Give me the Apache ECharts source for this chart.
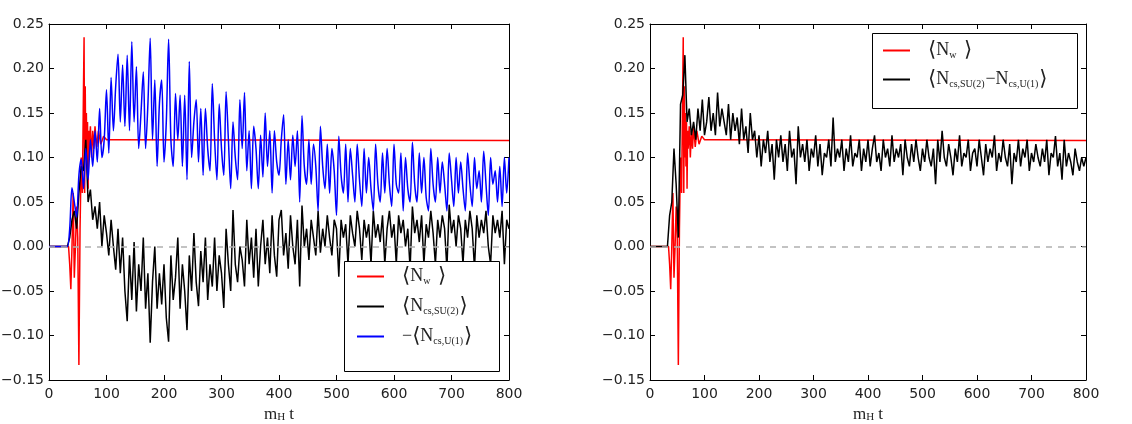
<!DOCTYPE html>
<html lang="en">
<head>
  <meta charset="UTF-8">
  <title>Chern-Simons number vs winding number</title>
  <script src="https://cdn.jsdelivr.net/npm/echarts@6/dist/echarts.min.js"></script>
  <style>
    html, body { margin: 0; padding: 0; background: #fff; }
  </style>
</head>
<body>

<div id="chart" style="width: 1132px; height: 424px;"></div>

<script>
  // sampling step (m_H t) of the gridded series
  var dt = 4;

  // winding number <N_w>, same in both panels (irregular times)
  var nwT = [0, 34, 36, 38, 40, 42, 44, 46, 48, 50, 52, 54, 56, 58, 60, 61, 62, 63, 64, 65,
             66, 67, 68, 69, 70, 72, 74, 76, 78, 80, 83, 86, 90, 95, 100, 110, 800];
  var nwV = [0, 0, -0.02, -0.048, 0.0, 0.06, -0.035, 0.0, 0.045, 0.01, -0.133, 0.02, 0.1, 0.06, 0.18, 0.235, 0.06, 0.18, 0.1, 0.15,
             0.09, 0.14, 0.065, 0.13, 0.11, 0.135, 0.1, 0.13, 0.11, 0.135, 0.112, 0.13, 0.115, 0.124, 0.12, 0.12, 0.119];

  // <N_cs,SU(2)>, left panel, every dt
  var ncsSU2 = [
    0, 0, 0, 0, 0, 0, 0, 0, 0, 0.01,
    0.03, 0.04, 0.02, 0.06, 0.09, 0.085, 0.12, 0.05, 0.064, 0.03,
    0.045, 0.02, 0.05, 0.0, 0.035, 0.015, -0.01, 0.03, 0.0, -0.026,
    0.02, -0.03, 0.01, -0.05, -0.084, -0.01, -0.06, 0.005, -0.073, -0.02,
    -0.05, 0.01, -0.07, -0.03, -0.108, -0.04, 0.0, -0.07, -0.03, -0.065,
    -0.02, -0.08, -0.107, -0.01, -0.06, -0.035, 0.01, -0.07, -0.02, -0.05,
    -0.094, -0.01, -0.05, 0.015, -0.04, -0.067, -0.005, -0.04, 0.01, -0.06,
    -0.02, -0.045, 0.01, -0.05, -0.01, -0.03, -0.069, 0.02, -0.02, -0.05,
    0.041, -0.02, -0.04, 0.0, -0.015, -0.045, 0.03, -0.02, 0.01, -0.035,
    0.02, -0.045, 0.0, 0.03, -0.02, 0.01, -0.03, 0.035, -0.01, -0.034,
    0.03, 0.041, -0.01, 0.015, -0.025, 0.035, 0.0, -0.02, 0.03, -0.045,
    0.046, 0.0, 0.02, -0.015, 0.03, 0.01, -0.01, 0.04, -0.007, 0.02,
    0.0, 0.035, 0.01, -0.01, 0.03, 0.02, -0.034, 0.03, 0.01, 0.025,
    -0.02, 0.035, 0.015, 0.0, 0.04, 0.02, -0.015, 0.03, 0.01, 0.025,
    -0.02, 0.04, 0.01, 0.025, 0.005, 0.035, -0.02, 0.02, 0.04, 0.01,
    0.025, -0.02, 0.035, 0.015, 0.03, 0.0, 0.02, -0.025, 0.045, 0.015,
    0.03, 0.005, 0.035, -0.02, 0.025, 0.01, 0.04, 0.015, -0.02, 0.03,
    0.01, 0.035, 0.02, -0.025, 0.047, 0.015, 0.03, 0.0, 0.035, 0.02,
    -0.02, 0.03, 0.01, 0.04, 0.02, -0.025, 0.035, 0.01, 0.03, 0.015,
    0.04, 0.0, -0.02, 0.035, 0.015, 0.03, 0.01, 0.04, -0.02, 0.03,
    0.02
  ];

  // -<N_cs,U(1)>, left panel, every dt
  var ncsU1neg = [
    0, 0, 0, 0, 0, 0, 0, 0, 0, 0.02,
    0.066, 0.05, 0.033, 0.08, 0.098, 0.065, 0.11, 0.075, 0.12, 0.09,
    0.13, 0.095, 0.155, 0.10, 0.12, 0.176, 0.105, 0.19, 0.13, 0.18,
    0.216, 0.14, 0.204, 0.135, 0.215, 0.13, 0.23, 0.14, 0.202, 0.11,
    0.15, 0.196, 0.11, 0.16, 0.234, 0.12, 0.187, 0.09, 0.16, 0.187,
    0.095, 0.14, 0.233, 0.12, 0.09, 0.172, 0.12, 0.17, 0.09, 0.17,
    0.075, 0.208, 0.1, 0.14, 0.165, 0.095, 0.155, 0.08, 0.155, 0.11,
    0.085, 0.183, 0.12, 0.075, 0.16, 0.11, 0.08, 0.174, 0.12, 0.065,
    0.14, 0.10, 0.075, 0.165, 0.11, 0.173, 0.085, 0.13, 0.065, 0.135,
    0.11, 0.065, 0.125, 0.078, 0.15, 0.09, 0.13, 0.06, 0.13, 0.095,
    0.08, 0.12, 0.148, 0.07, 0.12, 0.075, 0.125, 0.09, 0.13, 0.05,
    0.147, 0.09, 0.07, 0.12, 0.07, 0.115, 0.09, 0.04, 0.135, 0.09,
    0.065, 0.115, 0.06, 0.11, 0.085, 0.035, 0.124, 0.08, 0.06, 0.115,
    0.05, 0.11, 0.08, 0.05, 0.115, 0.075, 0.045, 0.11, 0.06, 0.1,
    0.065, 0.04, 0.115, 0.07, 0.05, 0.105, 0.06, 0.11, 0.07, 0.045,
    0.115, 0.07, 0.06, 0.105, 0.04, 0.1, 0.065, 0.05, 0.117, 0.07,
    0.05, 0.105, 0.06, 0.1, 0.055, 0.04, 0.11, 0.07, 0.05, 0.1,
    0.06, 0.095, 0.07, 0.04, 0.105, 0.075, 0.045, 0.1, 0.06, 0.095,
    0.065, 0.04, 0.105, 0.07, 0.045, 0.1, 0.065, 0.085, 0.05, 0.107,
    0.07, 0.035, 0.1, 0.07, 0.085, 0.05, 0.09, 0.045, 0.1, 0.06,
    0.1
  ];

  // <N_cs,SU(2) - N_cs,U(1)>, right panel, every dt
  var ncsDiff = [
    0, 0, 0, 0, 0, 0, 0, 0, 0.0, 0.035,
    0.05, 0.11, 0.07, 0.01, 0.16, 0.17, 0.215, 0.14, 0.155, 0.125,
    0.14, 0.12, 0.155, 0.13, 0.165, 0.125, 0.14, 0.168, 0.13, 0.15,
    0.125, 0.173, 0.135, 0.155, 0.14, 0.125, 0.16, 0.12, 0.15, 0.13,
    0.145, 0.115, 0.155, 0.12, 0.135, 0.105, 0.15, 0.12, 0.13, 0.1,
    0.125, 0.09, 0.12, 0.105, 0.13, 0.095, 0.115, 0.075, 0.12, 0.1,
    0.125, 0.095, 0.115, 0.085, 0.13, 0.1, 0.11, 0.07, 0.135, 0.1,
    0.115, 0.095, 0.12, 0.085, 0.11, 0.1, 0.125, 0.09, 0.115, 0.08,
    0.105, 0.1, 0.12, 0.09, 0.145, 0.095, 0.11, 0.1, 0.12, 0.085,
    0.11, 0.095, 0.125, 0.09, 0.105, 0.1, 0.12, 0.085, 0.11, 0.095,
    0.12, 0.09, 0.11, 0.125, 0.095, 0.105, 0.085, 0.12, 0.1, 0.11,
    0.09, 0.125, 0.095, 0.11, 0.1, 0.115, 0.08, 0.12, 0.1, 0.09,
    0.115, 0.095, 0.12, 0.1, 0.085, 0.11, 0.095, 0.12, 0.1, 0.09,
    0.11, 0.07, 0.12, 0.095, 0.13, 0.1, 0.09, 0.115, 0.1, 0.08,
    0.11, 0.095, 0.125, 0.09, 0.105, 0.1, 0.12, 0.085, 0.105, 0.11,
    0.09, 0.12, 0.1, 0.08, 0.115, 0.095, 0.11, 0.1, 0.125, 0.085,
    0.105, 0.095, 0.12, 0.1, 0.09, 0.115, 0.07, 0.105, 0.095, 0.12,
    0.09, 0.11, 0.1, 0.12, 0.085, 0.105, 0.095, 0.115, 0.1, 0.09,
    0.11, 0.095, 0.12, 0.08, 0.105, 0.1, 0.124, 0.09, 0.105, 0.075,
    0.12, 0.09, 0.105, 0.095, 0.08, 0.11, 0.095, 0.085, 0.1, 0.09,
    0.1
  ];

  var xTicks = { min: 0, max: 800, interval: 100 };
  var yTicks = { min: -0.15, max: 0.25, interval: 0.05 };

  function gridded(vals) {
    return vals.map(function (v, i) { return [i * dt, v]; });
  }
  function paired(ts, vs) {
    return ts.map(function (t, i) { return [t, vs[i]]; });
  }

  var legendLabels = {
    nw: '{sp|}{br|⟨}{n|N}{s|w}{br| ⟩}',
    su2: '{sp|}{br|⟨}{n|N}{s|cs,SU(2)}{br|⟩}',
    u1: '{sp|}{n|−}{br|⟨}{n|N}{s|cs,U(1)}{br|⟩}',
    diff: '{sp|}{br|⟨}{n|N}{s|cs,SU(2)}{n|−N}{s|cs,U(1)}{br|⟩}'
  };

  var legendRich = {
    sp: { width: 13 },
    br: { fontFamily: 'DejaVu Sans', fontSize: 21, color: '#222', lineHeight: 26 },
    n: { fontFamily: 'Liberation Serif', fontSize: 18, color: '#222' },
    s: { fontFamily: 'Liberation Serif', fontSize: 10, color: '#222', verticalAlign: 'bottom', padding: [0, 1, 3, 0] }
  };

  var axisFont = { fontFamily: 'DejaVu Sans', fontSize: 14, color: '#222' };
  var frameLine = { show: true, onZero: false, lineStyle: { color: '#000', width: 1 } };
  var innerTick = { show: true, inside: true, length: 5, lineStyle: { color: '#000', width: 1 } };

  function fmtY(v) {
    if (Math.abs(v) < 1e-9) return '0.00';
    return (v < 0 ? '−' : '') + Math.abs(v).toFixed(2);
  }

  function xAxesFor(g) {
    return [
      {
        gridIndex: g, type: 'value', position: 'bottom',
        min: xTicks.min, max: xTicks.max, interval: xTicks.interval,
        axisLine: frameLine, axisTick: innerTick,
        axisLabel: Object.assign({ margin: 7 }, axisFont),
        splitLine: { show: false },
        name: '{m|m}{h|H}{m| t}', nameLocation: 'middle', nameGap: 23,
        nameTextStyle: {
          rich: {
            m: { fontFamily: 'Liberation Serif', fontSize: 17, color: '#222' },
            h: { fontFamily: 'Liberation Serif', fontSize: 11, color: '#222', verticalAlign: 'bottom' }
          }
        }
      },
      {
        gridIndex: g, type: 'value', position: 'top',
        min: xTicks.min, max: xTicks.max, interval: xTicks.interval,
        axisLine: frameLine, axisTick: innerTick,
        axisLabel: { show: false }, splitLine: { show: false }
      }
    ];
  }

  function yAxesFor(g) {
    return [
      {
        gridIndex: g, type: 'value', position: 'left',
        min: yTicks.min, max: yTicks.max, interval: yTicks.interval,
        axisLine: frameLine, axisTick: innerTick,
        axisLabel: Object.assign({ margin: 5, formatter: fmtY }, axisFont),
        splitLine: { show: false }
      },
      {
        gridIndex: g, type: 'value', position: 'right',
        min: yTicks.min, max: yTicks.max, interval: yTicks.interval,
        axisLine: frameLine, axisTick: innerTick,
        axisLabel: { show: false }, splitLine: { show: false }
      }
    ];
  }

  var zeroLine = {
    silent: true, symbol: 'none', animation: false,
    label: { show: false },
    lineStyle: { color: '#b0b0b0', type: [6, 6], width: 1.5 },
    data: [{ yAxis: 0 }]
  };

  function lineSeries(name, color, data, xi, yi, extra) {
    return Object.assign({
      name: name, type: 'line', data: data,
      xAxisIndex: xi, yAxisIndex: yi,
      showSymbol: false, symbol: 'none', smooth: false,
      lineStyle: { color: color, width: 1.5 },
      itemStyle: { color: color },
      emphasis: { disabled: true }
    }, extra || {});
  }

  var chart = echarts.init(document.getElementById('chart'), null, { renderer: 'canvas' });

  var option = {
    animation: false,
    backgroundColor: '#fff',
    grid: [
      { left: 49, top: 24, width: 460, height: 356, containLabel: false, outerBoundsMode: 'none' },
      { left: 650, top: 24, width: 436, height: 356, containLabel: false, outerBoundsMode: 'none' }
    ],
    xAxis: xAxesFor(0).concat(xAxesFor(1)),
    yAxis: yAxesFor(0).concat(yAxesFor(1)),
    legend: [
      {
        data: ['nw', 'su2', 'u1'], orient: 'vertical', left: 357, top: 266,
        padding: 0, itemGap: 9, itemWidth: 27, itemHeight: 2, icon: 'rect',
        selectedMode: false, z: 60,
        formatter: function (n) { return legendLabels[n]; },
        textStyle: { rich: legendRich }
      },
      {
        data: ['nw', 'diff'], orient: 'vertical', left: 883, top: 40,
        padding: 0, itemGap: 8, itemWidth: 27, itemHeight: 2, icon: 'rect',
        selectedMode: false, z: 60,
        formatter: function (n) { return legendLabels[n]; },
        textStyle: { rich: legendRich }
      }
    ],
    graphic: [
      { type: 'rect', z: 50, shape: { x: 344.5, y: 261.5, width: 155, height: 110 },
        style: { fill: '#fff', stroke: '#000', lineWidth: 1 } },
      { type: 'rect', z: 50, shape: { x: 872.5, y: 33.5, width: 205, height: 75 },
        style: { fill: '#fff', stroke: '#000', lineWidth: 1 } }
    ],
    series: [
      lineSeries('nw', '#ff0000', paired(nwT, nwV), 0, 0, { markLine: zeroLine }),
      lineSeries('su2', '#000000', gridded(ncsSU2), 0, 0),
      lineSeries('u1', '#0000ff', gridded(ncsU1neg), 0, 0, { smooth: 0.3 }),
      lineSeries('nw', '#ff0000', paired(nwT, nwV), 2, 2, { markLine: zeroLine }),
      lineSeries('diff', '#000000', gridded(ncsDiff), 2, 2)
    ]
  };

  chart.setOption(option);
</script>

</body>
</html>
